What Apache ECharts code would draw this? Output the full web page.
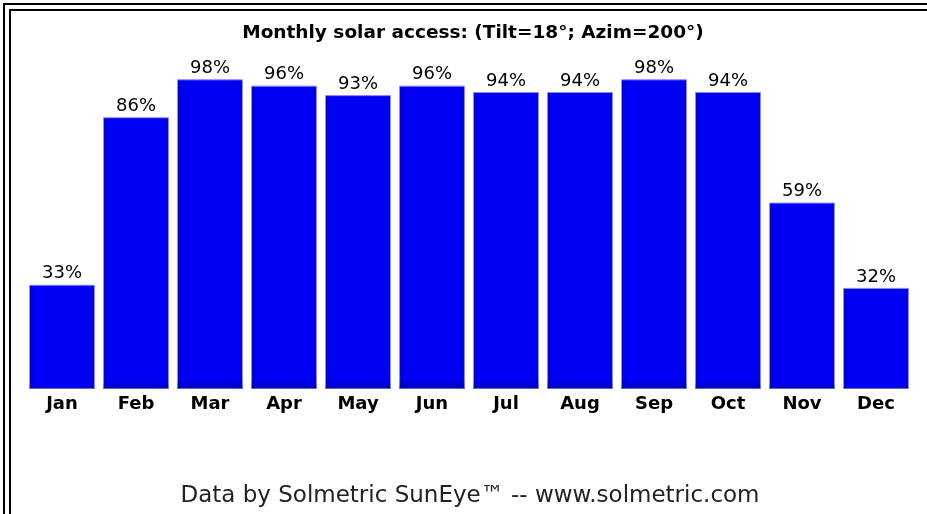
<!DOCTYPE html>
<html>
<head>
<meta charset="utf-8">
<script src="https://cdn.jsdelivr.net/npm/echarts@6/dist/echarts.min.js"></script>
<style>
html,body{margin:0;padding:0;background:#fff;}
#chart{width:927px;height:514px;}
</style>
</head>
<body>
<div id="chart"></div>
<script>
const months = ['Jan','Feb','Mar','Apr','May','Jun','Jul','Aug','Sep','Oct','Nov','Dec'];
const access = [33, 86, 98, 96, 93, 96, 94, 94, 98, 94, 59, 32];
const titleText = 'Monthly solar access: (Tilt=18\u00b0; Azim=200\u00b0)';
const footerText = 'Data by Solmetric SunEye\u2122 -- www.solmetric.com';

const chart = echarts.init(document.getElementById('chart'), null, {renderer:'canvas'});
chart.setOption({
  animation: false,
  backgroundColor: '#ffffff',
  title: [{
    text: titleText,
    left: 468, top: 19, textAlign: 'center',
    textStyle: {fontFamily: 'DejaVu Sans', fontWeight: 'bold', fontSize: 18.5, color: '#000'}
  }, {
    text: footerText,
    left: 465, top: 480, textAlign: 'center',
    textStyle: {fontFamily: 'DejaVu Sans', fontWeight: 'normal', fontSize: 23, color: '#222'}
  }],
  grid: {left: 25, right: 14, top: 73, bottom: 125},
  xAxis: {
    type: 'category', data: months,
    axisLine: {show: false}, axisTick: {show: false},
    axisLabel: {fontFamily: 'DejaVu Sans', fontWeight: 'bold', fontSize: 18, color: '#000', margin: 6}
  },
  yAxis: {type: 'value', min: 0, max: 100, show: false, splitLine: {show: false}},
  series: [{
    type: 'bar', data: access, barCategoryGap: '11%',
    itemStyle: {
      borderColor: '#8a8aff', borderWidth: 1,
      color: new echarts.graphic.LinearGradient(0, 0, 1, 0, [
        {offset: 0, color: '#0000a8'},
        {offset: 0.07, color: '#0000f4'},
        {offset: 0.93, color: '#0000f4'},
        {offset: 1, color: '#0000a8'}
      ])
    },
    label: {
      show: true, position: 'top', distance: 2,
      formatter: '{c}%',
      fontFamily: 'DejaVu Sans', fontSize: 18, color: '#000'
    }
  }, {
    type: 'bar', data: access, barGap: '-100%', barCategoryGap: '11%', silent: true,
    itemStyle: {
      color: new echarts.graphic.LinearGradient(0, 0, 0, 1, [
        {offset: 0, color: 'rgba(0,0,0,0.0)'},
        {offset: 0.97, color: 'rgba(0,0,0,0.0)'},
        {offset: 1, color: 'rgba(0,0,80,0.3)'}
      ])
    }
  }],
  graphic: [
    {type: 'line', shape: {x1: 3, y1: 4, x2: 927, y2: 4}, style: {stroke: '#000', lineWidth: 2}},
    {type: 'line', shape: {x1: 9, y1: 10, x2: 927, y2: 10}, style: {stroke: '#000', lineWidth: 2}},
    {type: 'line', shape: {x1: 4, y1: 3, x2: 4, y2: 514}, style: {stroke: '#000', lineWidth: 2}},
    {type: 'line', shape: {x1: 10, y1: 9, x2: 10, y2: 514}, style: {stroke: '#000', lineWidth: 2}}
  ]
});
</script>
</body>
</html>
